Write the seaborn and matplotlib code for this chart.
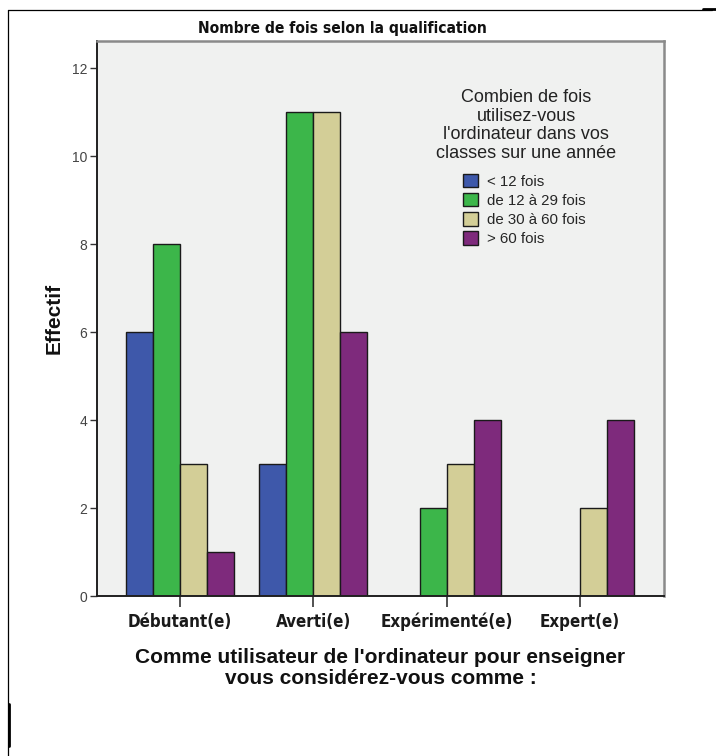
import seaborn as sns
import pandas as pd
import matplotlib.pyplot as plt
from matplotlib.patches import Patch
from matplotlib.lines import Line2D
from matplotlib import font_manager

# categories and counts
qualifications = ["Débutant(e)", "Averti(e)", "Expérimenté(e)", "Expert(e)"]
frequencies = ["< 12 fois", "de 12 à 29 fois", "de 30 à 60 fois", "> 60 fois"]

count_lt12 = [6, 3, None, None]
count_12_29 = [8, 11, 2, None]
count_30_60 = [3, 11, 3, 2]
count_gt60 = [1, 6, 4, 4]

colors = ["#3E58AA", "#3CB64A", "#D3CE97", "#7E2A7C"]

rows = []
for freq, counts in zip(frequencies, [count_lt12, count_12_29, count_30_60, count_gt60]):
    for qual, c in zip(qualifications, counts):
        if c is not None:
            rows.append({"qualification": qual, "frequence": freq, "effectif": c})
df = pd.DataFrame(rows)

sns.set_style("white")
plt.rcParams["font.family"] = ["Liberation Sans", "DejaVu Sans"]

# condensed bold face for the title and category labels
narrow = font_manager.FontProperties(family="DejaVu Sans", weight="bold", stretch="condensed")

fig = plt.figure(figsize=(7.16, 7.56), dpi=100)
ax = fig.add_axes([97 / 716, 160 / 756, 567 / 716, 555 / 756])
ax.set_facecolor("#F0F1F0")

sns.barplot(data=df, x="qualification", y="effectif", hue="frequence",
            order=qualifications, hue_order=frequencies, palette=colors,
            width=0.81, edgecolor="#1a1a1a", linewidth=1.0, saturation=1,
            errorbar=None, ax=ax)

ax.set_xlim(-0.62, 3.63)
ax.set_ylim(0, 12.62)
ax.set_yticks([0, 2, 4, 6, 8, 10, 12])

for side in ["left", "bottom"]:
    ax.spines[side].set_color("#202020")
    ax.spines[side].set_linewidth(1.4)
for side in ["top", "right"]:
    ax.spines[side].set_color("#8a8a8a")
    ax.spines[side].set_linewidth(1.8)

ax.tick_params(axis="y", direction="out", length=5, width=1, color="#333333",
               labelsize=10, labelcolor="#444444", left=True, pad=2)
ax.tick_params(axis="x", direction="out", length=8, width=1.2, color="#333333",
               bottom=True, pad=4)
for lab in ax.get_xticklabels():
    lab.set_fontproperties(narrow)
    lab.set_fontsize(12.2)
    lab.set_color("#1a1a1a")

ax.set_ylabel("Effectif", fontsize=15, fontweight="bold", color="#111111")
ax.yaxis.set_label_coords(-0.058, 0.5)
ax.set_xlabel("Comme utilisateur de l'ordinateur pour enseigner\nvous considérez-vous comme :",
              fontsize=15, fontweight="bold", labelpad=12, linespacing=1.15, color="#111111")

title = fig.text(342 / 716, 1 - 28 / 756, "Nombre de fois selon la qualification",
                 ha="center", va="center", color="#111111")
title.set_fontproperties(narrow)
title.set_fontsize(11.2)

# legend title drawn as its own text, entries as a legend beneath it
fig.text(526 / 716, 1 - 125.5 / 756,
         "Combien de fois\nutilisez-vous\nl'ordinateur dans vos\nclasses sur une année",
         ha="center", va="center", multialignment="center",
         fontsize=13, linespacing=1.13, color="#222222")

ax.get_legend().remove()
handles = [Patch(facecolor=c, edgecolor="#1a1a1a", linewidth=1.0) for c in colors]
fig.legend(handles, frequencies, loc="upper left",
           bbox_to_anchor=(463 / 716, 1 - 174 / 756),
           frameon=False, fontsize=10.8,
           handlelength=1.0, handleheight=1.0, handletextpad=0.6,
           labelspacing=0.28, borderpad=0, borderaxespad=0)

# outer frame lines of the exported output
fig.add_artist(Line2D([8 / 716, 712 / 716], [1 - 10 / 756, 1 - 10 / 756], color="black", lw=0.9))
fig.add_artist(Line2D([8 / 716, 8 / 716], [0, 1 - 10 / 756], color="black", lw=0.9))
fig.add_artist(Line2D([9 / 716, 9 / 716], [10 / 756, 52 / 756], color="black", lw=2.0))
fig.add_artist(Line2D([703 / 716, 716 / 716], [1 - 9 / 756, 1 - 9 / 756], color="black", lw=2.0))

fig.savefig("out.png", dpi=100)
